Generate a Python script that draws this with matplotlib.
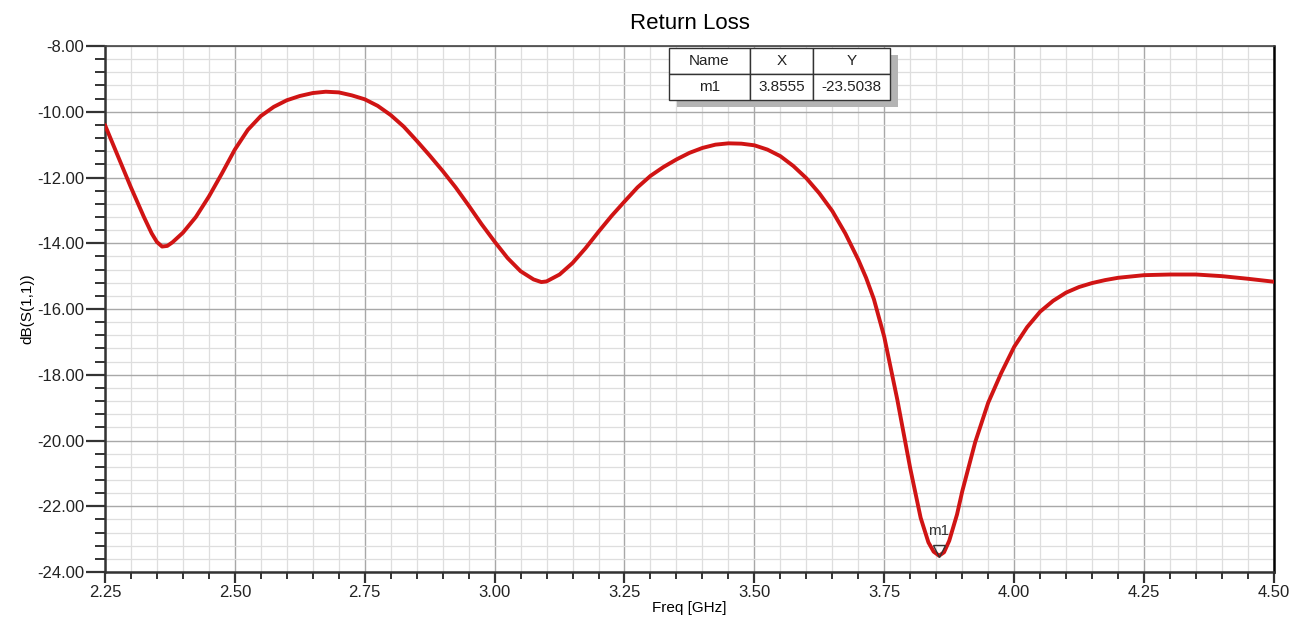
import matplotlib
matplotlib.use("Agg")
import matplotlib.pyplot as plt
from matplotlib.patches import Rectangle
from matplotlib.ticker import MultipleLocator, FormatStrFormatter

plt.rcParams["font.family"] = ["Liberation Sans", "DejaVu Sans"]

# S11 sweep (GHz, dB)
freq = [2.25, 2.275, 2.30, 2.325, 2.34, 2.35, 2.36, 2.37, 2.38, 2.40,
        2.425, 2.45, 2.475, 2.50, 2.525, 2.55, 2.575, 2.60, 2.625, 2.65,
        2.675, 2.70, 2.725, 2.75, 2.775, 2.80, 2.825, 2.85, 2.875, 2.90,
        2.925, 2.95, 2.975, 3.00, 3.025, 3.05, 3.075, 3.09, 3.10, 3.125,
        3.15, 3.175, 3.20, 3.225, 3.25, 3.275, 3.30, 3.325, 3.35, 3.375,
        3.40, 3.425, 3.45, 3.475, 3.50, 3.525, 3.55, 3.575, 3.60, 3.625,
        3.65, 3.675, 3.70, 3.715, 3.73, 3.75, 3.775, 3.80, 3.82, 3.835, 3.845,
        3.8555, 3.865, 3.875, 3.89, 3.90, 3.925, 3.95, 3.975, 4.00, 4.025,
        4.05, 4.075, 4.10, 4.125, 4.15, 4.175, 4.20, 4.25, 4.30, 4.35,
        4.40, 4.45, 4.50]
s11_db = [-10.40, -11.35, -12.30, -13.20, -13.70, -13.96, -14.10, -14.08, -13.97, -13.68,
          -13.20, -12.58, -11.88, -11.15, -10.55, -10.13, -9.85, -9.65, -9.52, -9.43,
          -9.39, -9.41, -9.50, -9.62, -9.82, -10.10, -10.45, -10.88, -11.33, -11.80,
          -12.30, -12.85, -13.42, -13.95, -14.45, -14.85, -15.10, -15.18, -15.16, -14.95,
          -14.60, -14.15, -13.65, -13.17, -12.73, -12.30, -11.95, -11.68, -11.45, -11.25,
          -11.10, -11.00, -10.96, -10.97, -11.02, -11.15, -11.35, -11.65, -12.02, -12.48,
          -13.02, -13.70, -14.50, -15.05, -15.70, -16.85, -18.75, -20.85, -22.35, -23.10, -23.38,
          -23.5038, -23.40, -23.05, -22.25, -21.55, -20.05, -18.85, -17.95, -17.15, -16.55,
          -16.08, -15.75, -15.50, -15.33, -15.21, -15.12, -15.05, -14.97, -14.95, -14.95,
          -15.00, -15.08, -15.17]

marker_name = "m1"
marker_x = 3.8555
marker_y = -23.5038

fig = plt.figure(figsize=(12.94, 6.17), dpi=100)
ax = fig.add_axes([0.0811, 0.0729, 0.9034, 0.8525])

ax.plot(freq, s11_db, color="#d01414", lw=2.8, solid_capstyle="round",
        solid_joinstyle="round", zorder=3)

ax.set_xlim(2.25, 4.50)
ax.set_ylim(-24, -8)
ax.xaxis.set_major_locator(MultipleLocator(0.25))
ax.xaxis.set_minor_locator(MultipleLocator(0.05))
ax.yaxis.set_major_locator(MultipleLocator(2))
ax.yaxis.set_minor_locator(MultipleLocator(0.4))
ax.xaxis.set_major_formatter(FormatStrFormatter("%.2f"))
ax.yaxis.set_major_formatter(FormatStrFormatter("%.2f"))

ax.grid(which="major", color="#a8a8a8", lw=1.0)
ax.grid(which="minor", color="#dedede", lw=0.9)
ax.set_axisbelow(True)

ax.tick_params(axis="both", which="major", labelsize=12, colors="#333333",
               width=1.6, direction="out", pad=1)
ax.tick_params(axis="y", which="major", length=14)
ax.tick_params(axis="x", which="major", length=8)
ax.tick_params(axis="y", which="minor", length=7, width=1.4, colors="#333333")
ax.tick_params(axis="x", which="minor", length=5, width=1.4, colors="#333333")
for lbl in ax.get_xticklabels() + ax.get_yticklabels():
    lbl.set_color("#222222")

for side in ["left", "bottom"]:
    ax.spines[side].set_color("#333333")
    ax.spines[side].set_linewidth(1.8)
ax.spines["top"].set_color("#444444")
ax.spines["top"].set_linewidth(1.2)
ax.spines["right"].set_color("#000000")
ax.spines["right"].set_linewidth(1.8)

ax.set_title("Return Loss", fontsize=16, pad=12)
ax.set_xlabel("Freq [GHz]", fontsize=11, labelpad=1)
ax.set_ylabel("dB(S(1,1))", fontsize=11, labelpad=2)

# marker m1 at the minimum
ax.plot(marker_x, marker_y + 0.15, marker="v", ms=9, mfc="none", mec="#333333",
        mew=1.0, zorder=4)
ax.text(marker_x, marker_y + 0.55, marker_name, fontsize=11, color="#333333",
        ha="center", va="bottom", zorder=4)

# marker readout table with drop shadow
tx0, ty0, tw, th = 0.4825, 0.8973, 0.189, 0.099
ax.add_patch(Rectangle((tx0 + 0.007, ty0 - 0.014), tw, th, transform=ax.transAxes,
                       facecolor="#b4b4b4", edgecolor="none", zorder=5))
tbl = ax.table(cellText=[[marker_name, f"{marker_x:.4f}", f"{marker_y:.4f}"]],
               colLabels=["Name", "X", "Y"],
               colWidths=[0.367, 0.285, 0.348],
               cellLoc="center", bbox=[tx0, ty0, tw, th], zorder=6)
tbl.auto_set_font_size(False)
for (r, c), cell in tbl.get_celld().items():
    cell.set_facecolor("white")
    cell.set_edgecolor("#333333")
    cell.set_linewidth(1.0)
    cell.get_text().set_fontsize(11)
    cell.get_text().set_color("#222222")

fig.savefig("out.png", dpi=100)
